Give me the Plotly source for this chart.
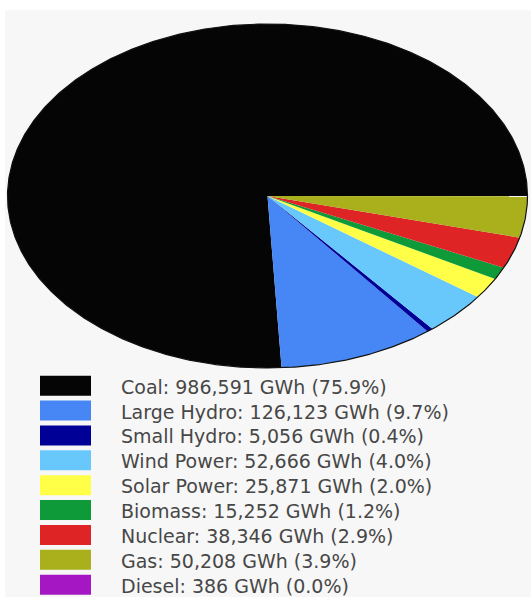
import numpy as np
import plotly.graph_objects as go

# Electricity generation by source (GWh)
sources = ["Coal", "Large Hydro", "Small Hydro", "Wind Power", "Solar Power",
           "Biomass", "Nuclear", "Gas", "Diesel"]
generation_gwh = [986591, 126123, 5056, 52666, 25871, 15252, 38346, 50208, 386]
colors = ["#050505", "#4687f5", "#000096", "#68c8fc", "#ffff48",
          "#0f9a3a", "#de2424", "#a9b01b", "#a417c2"]

W, H = 531, 597
# Pie placement in pixels (center and radii); axes scaled so the unit circle
# becomes the wide ellipse
CX, CY, RX, RY = 267.5, 196.0, 260.0, 172.0

total = float(sum(generation_gwh))
fractions = [v / total for v in generation_gwh]
cum = np.concatenate([[0.0], np.cumsum(fractions)])

fig = go.Figure()

# Slices start at 3 o'clock and run counterclockwise
for i, (name, val, frac, col) in enumerate(zip(sources, generation_gwh, fractions, colors)):
    a0, a1 = 2 * np.pi * cum[i], 2 * np.pi * cum[i + 1]
    n = max(2, int(np.ceil((a1 - a0) / (2 * np.pi) * 720)) + 1)
    t = np.linspace(a0, a1, n)
    xs = np.concatenate([[0.0], np.cos(t), [0.0]])
    ys = np.concatenate([[0.0], np.sin(t), [0.0]])
    fig.add_trace(go.Scatter(
        x=xs, y=ys, mode="lines", fill="toself", fillcolor=col,
        line=dict(width=0, color=col), name=name, showlegend=False,
        hoveron="fills",
        text=f"{name}: {val:,} GWh ({frac*100:.1f}%)", hoverinfo="text"))

# Thin dark rim around the whole pie
t = np.linspace(0, 2 * np.pi, 721)
fig.add_trace(go.Scatter(x=np.cos(t), y=np.sin(t), mode="lines",
                         line=dict(color="#111111", width=1.2),
                         hoverinfo="skip", showlegend=False))

# Legend: colour swatches with labels below the pie
ROW0, ROW_STEP = 385.7, 24.87
for i, (name, val, frac, col) in enumerate(zip(sources, generation_gwh, fractions, colors)):
    yc = ROW0 + i * ROW_STEP
    fig.add_shape(type="rect", xref="paper", yref="paper",
                  x0=40 / W, x1=91 / W,
                  y0=1 - (yc + 10) / H, y1=1 - (yc - 10) / H,
                  fillcolor=col, line=dict(width=0), layer="above")
    fig.add_annotation(xref="paper", yref="paper", x=119 / W, y=1 - (yc + 1) / H,
                       xanchor="left", yanchor="middle", showarrow=False,
                       text=f"{name}: {val:,} GWh ({frac*100:.1f}%)",
                       font=dict(family="DejaVu Sans, Arial, sans-serif",
                                 size=19, color="#474747"))

# Light grey panel behind everything, leaving a thin white strip top/left
fig.add_shape(type="rect", xref="paper", yref="paper",
              x0=5 / W, x1=1, y0=0, y1=1 - 10 / H,
              fillcolor="#f7f7f7", line=dict(width=0), layer="below")

fig.update_xaxes(range=[-CX / RX, (W - CX) / RX], visible=False, fixedrange=True)
fig.update_yaxes(range=[-(H - CY) / RY, CY / RY], visible=False, fixedrange=True)
fig.update_layout(width=W, height=H, margin=dict(l=0, r=0, t=0, b=0),
                  paper_bgcolor="white", plot_bgcolor="rgba(0,0,0,0)",
                  showlegend=False)

fig.write_html("out.html")
